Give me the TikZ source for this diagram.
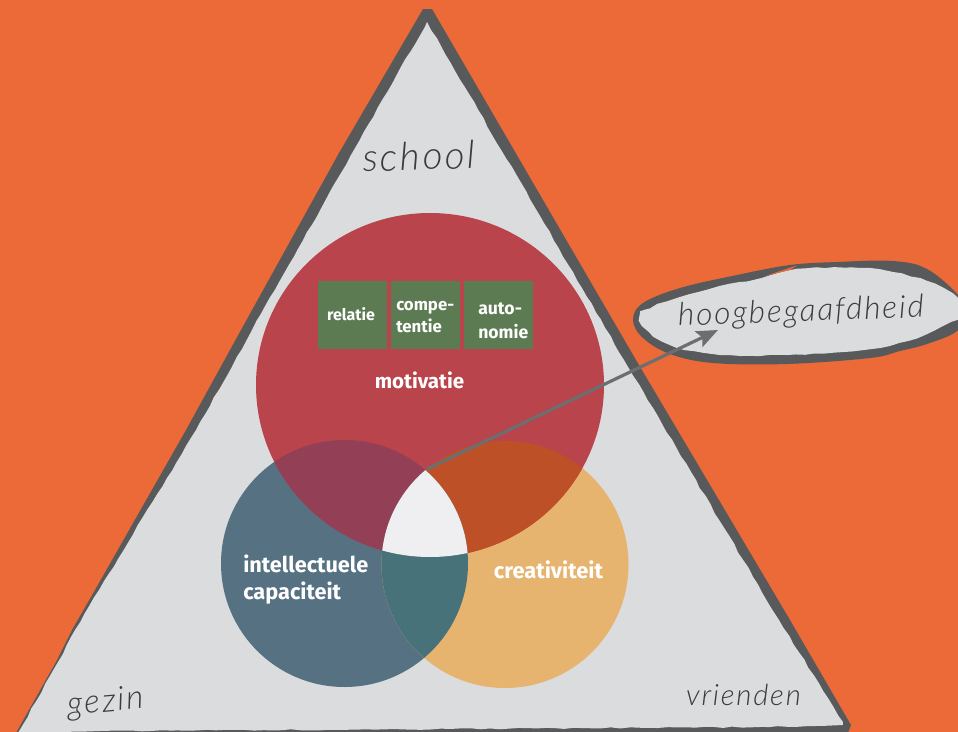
\documentclass[tikz,border=0pt]{standalone}
\usepackage{fontspec}
\setmainfont{Fira Sans}
\newfontfamily\handf[LetterSpace=6]{Lato Light}
\usetikzlibrary{decorations.pathmorphing,arrows.meta}
\definecolor{bgor}{HTML}{EB6A38}
\definecolor{tri}{HTML}{DBDCDE}
\definecolor{edge}{HTML}{58595B}
\definecolor{redc}{HTML}{B9444C}
\definecolor{bluec}{HTML}{567182}
\definecolor{orc}{HTML}{E6B46E}
\definecolor{rb}{HTML}{933F55}
\definecolor{ro}{HTML}{BE5028}
\definecolor{bo}{HTML}{487279}
\definecolor{rbo}{HTML}{EFEFF2}
\definecolor{greenc}{HTML}{5C7B52}
\definecolor{arrowc}{HTML}{6D6E70}
\definecolor{inkc}{HTML}{3A3B3D}
\tikzset{
  rough/.style={decorate,decoration={random steps,segment length=7pt,amplitude=.5pt}},
  greenbox/.style={fill=greenc,draw=none,minimum width=51.75pt,minimum height=51pt,inner sep=0pt},
  lab/.style={text=white,inner sep=0pt},
  hand/.style={text=inkc,inner sep=0pt}
}
\newcommand{\cmot}{(430,385) ellipse [x radius=174,y radius=172]}
\newcommand{\cint}{(344.5,563.5) circle [radius=123.5]}
\newcommand{\ccre}{(505,564.5) circle [radius=123.5]}
\begin{document}
\begin{tikzpicture}[x=.75pt,y=-.75pt]
\useasboundingbox (0,0) rectangle (958,732);
\fill[bgor] (0,0) rectangle (958,732);
% triangle
\fill[edge] (423,9) -- (432,9) -- (636,360) -- (790,620) -- (851,725) -- (848,733) -- (16,733) -- (56,662) -- (72,630) -- (95,590) -- (186,430) -- (241,330) -- (339,153) -- cycle;
\fill[tri,rough] (427,22) -- (624,360) -- (779,620) -- (843,722) -- (843,725) -- (770,727) -- (450,729) -- (100,731) -- (18,733) -- (58,662) -- (75,630) -- (99,590) -- (196,430) -- (252,330) -- (341,173) -- cycle;
% ellipse badge
\fill[edge] plot[smooth cycle,tension=.6] coordinates {(633,320) (643,303) (680,288) (737,275) (790,265) (837,262) (893,261) (927,269) (958,295) (964,312) (957,331) (927,344) (900,351) (870,358) (787,364) (713,363) (670,354) (643,338)};
\fill[tri,rough] plot[smooth cycle,tension=.6] coordinates {(640,320) (649,309) (680,297) (720,286) (753,280) (797,269) (860,268) (893,272) (927,281) (953,294) (966,310) (943,326) (917,338) (870,349) (787,355) (713,354) (670,345) (649,332)};
\fill[bgor] (765,276) -- (797,265.5) -- (790,270) -- cycle;
% circles
\fill[bluec] \cint;
\fill[orc] \ccre;
\fill[redc] \cmot;
\begin{scope}\clip \cint; \fill[rb] \cmot; \end{scope}
\begin{scope}\clip \ccre; \fill[ro] \cmot; \end{scope}
\begin{scope}\clip \cint; \fill[bo] \ccre; \end{scope}
\begin{scope}\clip \cint; \clip \ccre; \fill[rbo] \cmot; \end{scope}
% boxes
\node[greenbox] (relbox) at (352.5,315) {};
\node[greenbox] (combox) at (425.5,315) {};
\node[greenbox] (autbox) at (498.5,315) {};
\node[lab,font=\bfseries\fontsize{12}{14}\selectfont] (rel) at (351,314) {relatie};
\node[lab,font=\bfseries\fontsize{12.6}{14}\selectfont,anchor=base west] (com1) at (396,310) {compe-};
\node[lab,font=\bfseries\fontsize{12.6}{14}\selectfont,anchor=base west] (com2) at (396,332) {tentie};
\node[lab,font=\bfseries\fontsize{13.2}{14}\selectfont,anchor=base west] (aut1) at (478,314) {auto-};
\node[lab,font=\bfseries\fontsize{13.2}{14}\selectfont,anchor=base west] (aut2) at (478,338) {nomie};
\node[lab,font=\bfseries\fontsize{15.4}{18}\selectfont] (mot) at (419.5,380) {motivatie};
\node[lab,font=\bfseries\fontsize{16.3}{18}\selectfont,anchor=base west] (int1) at (243,572) {intellectuele};
\node[lab,font=\bfseries\fontsize{16.3}{18}\selectfont,anchor=base west] (int2) at (243,599) {capaciteit};
\node[lab,font=\bfseries\fontsize{16.4}{18}\selectfont] (cre) at (548.5,570) {creativiteit};
% arrow
\coordinate (src) at (427,469);
\coordinate (tip) at (718,330);
\draw[arrowc,line width=2.4pt,-{Stealth[length=16pt,width=13pt,inset=3pt]}] (src) -- (tip);
% handwriting
\node[hand,font=\handf\itshape\fontsize{29}{32}\selectfont,rotate=2] (school) at (419,156) {school};
\node[hand,font=\handf\itshape\fontsize{23.7}{26}\selectfont,rotate=2] (hoog) at (801,313) {hoogbegaafdheid};
\node[hand,font=\handf\itshape\fontsize{24.8}{28}\selectfont,rotate=5] (gezin) at (106,703) {gezin};
\node[hand,font=\handf\itshape\fontsize{22}{26}\selectfont] (vri) at (743.5,695) {vrienden};
\end{tikzpicture}
\end{document}
